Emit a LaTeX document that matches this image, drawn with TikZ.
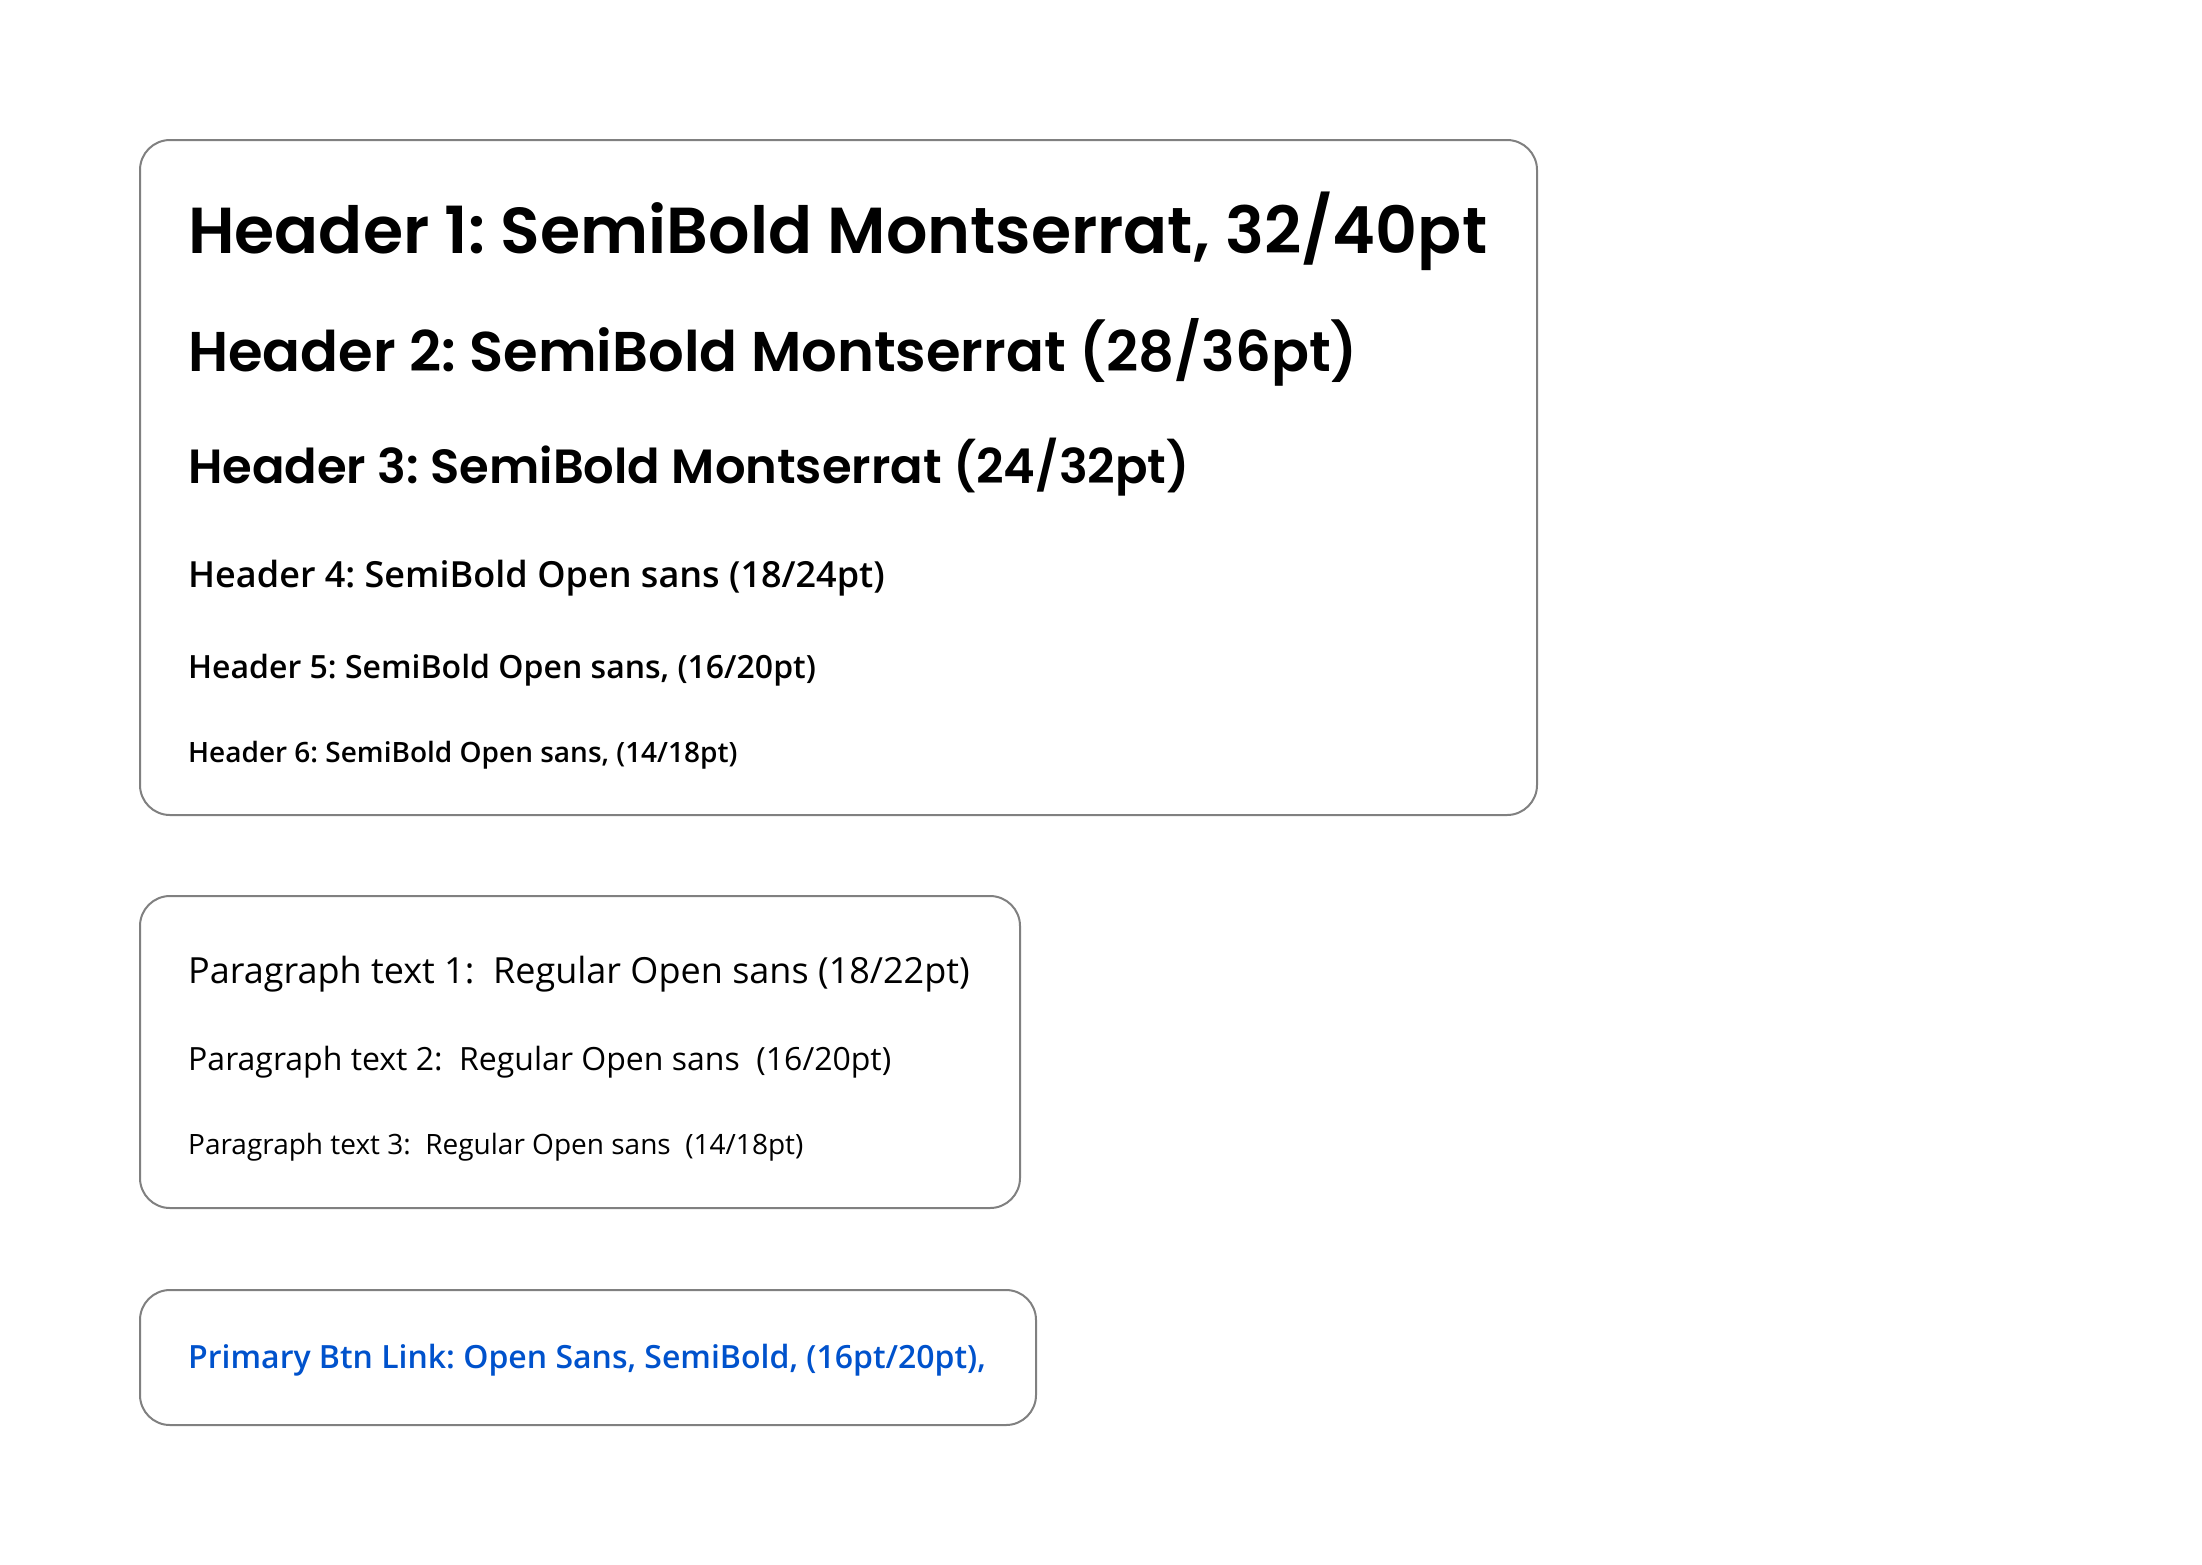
\documentclass[tikz,border=0pt]{standalone}
\usepackage{fontspec}
\setmainfont{Open Sans}
\frenchspacing
\IfFontExistsTF{Open Sans Semibold}
  {\newfontfamily\semifont{Open Sans Semibold}}
  {\newfontfamily\semifont{Open Sans}[FakeBold=2.5]}
\IfFontExistsTF{Poppins SemiBold}
  {\newfontfamily\montfont{Poppins SemiBold}}
  {\IfFontExistsTF{Poppins Medium}
    {\newfontfamily\montfont{Poppins Medium}}
    {\newfontfamily\montfont{Poppins}[FakeBold=3]}}
\definecolor{boxgray}{HTML}{808080}
\definecolor{btnblue}{HTML}{0052CC}

\begin{document}
\begin{tikzpicture}[x=1pt,y=-1pt,
    card/.style={draw=boxgray,line width=2pt,rounded corners=30pt},
    txt/.style={anchor=base west,inner sep=0pt}]
    \useasboundingbox (0,0) rectangle (2202,1564);
    % cards
    \draw[card] (140,140) rectangle (1537,815);
    \draw[card] (140,896) rectangle (1020,1208);
    \draw[card] (140,1290) rectangle (1036,1425);
    % headers
    \node[txt,font=\montfont\fontsize{65}{80}\selectfont] (H1) at (188,253) {Header 1: SemiBold Montserrat, 32/40pt};
    \node[txt,font=\montfont\fontsize{56}{72}\selectfont] (H2) at (188,371) {Header 2: SemiBold Montserrat (28/36pt)};
    \node[txt,font=\montfont\fontsize{48}{64}\selectfont] (H3) at (188,483) {Header 3: SemiBold Montserrat (24/32pt)};
    \node[txt,font=\semifont\fontsize{36}{48}\selectfont] (H4) at (188,587) {Header 4: SemiBold Open sans (18/24pt)};
    \node[txt,font=\semifont\fontsize{32}{40}\selectfont] (H5) at (188,678) {Header 5: SemiBold Open sans, (16/20pt)};
    \node[txt,font=\semifont\fontsize{28}{36}\selectfont] (H6) at (188,762) {Header 6: SemiBold Open sans, (14/18pt)};
    % paragraphs
    \node[txt,font=\fontsize{36}{44}\selectfont] (P1) at (188,983) {Paragraph text 1:\ \ Regular Open sans (18/22pt)};
    \node[txt,font=\fontsize{32}{40}\selectfont] (P2) at (188,1070) {Paragraph text 2:\ \ Regular Open sans\ \ (16/20pt)};
    \node[txt,font=\fontsize{28}{36}\selectfont] (P3) at (188,1154) {Paragraph text 3:\ \ Regular Open sans\ \ (14/18pt)};
    % button link
    \node[txt,text=btnblue,font=\semifont\fontsize{32}{40}\selectfont] (B) at (188,1368) {Primary Btn Link: Open Sans, SemiBold, (16pt/20pt),};
\end{tikzpicture}
\end{document}
